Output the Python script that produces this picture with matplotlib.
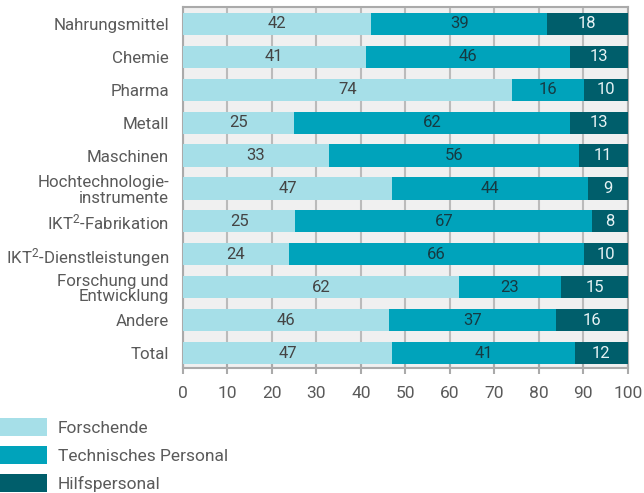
import matplotlib.pyplot as plt
import numpy as np

# categories and shares (percent)
categories = ["Nahrungsmittel", "Chemie", "Pharma", "Metall", "Maschinen",
              "Hochtechnologie-\ninstrumente", "IKT$^2$-Fabrikation",
              "IKT$^2$-Dienstleistungen", "Forschung und\nEntwicklung",
              "Andere", "Total"]
forschende = [42.4, 41.1, 73.9, 25.0, 32.9, 47.1, 25.3, 23.9, 62.0, 46.4, 47.1]
technisch = [39.4, 45.9, 16.3, 62.0, 56.1, 44.0, 66.7, 66.3, 23.0, 37.4, 41.0]
hilfs = [18.2, 13.0, 9.8, 13.0, 11.0, 8.9, 8.0, 9.8, 15.0, 16.2, 11.9]
series_names = ["Forschende", "Technisches Personal", "Hilfspersonal"]
xticks = [0, 10, 20, 30, 40, 50, 60, 70, 80, 90, 100]

colors = ["#a6dfe8", "#00a3bb", "#005e6b"]
text_colors = ["#444444", "#163a42", "#e6f2f4"]

plt.rcParams['font.family'] = ['Roboto', 'DejaVu Sans']
plt.rcParams['mathtext.fontset'] = 'custom'
plt.rcParams['mathtext.rm'] = 'Roboto'
plt.rcParams['mathtext.it'] = 'Roboto:italic'
plt.rcParams['mathtext.default'] = 'regular'

fig = plt.figure(figsize=(6.44, 4.93), dpi=100)
ax = fig.add_axes([0.2839, 0.2529, 0.6909, 0.7323])
ax.set_facecolor("#f0f0f0")

y = np.arange(len(categories))
left = np.zeros(len(categories))
for vals, col, tcol, name in zip([forschende, technisch, hilfs], colors, text_colors, series_names):
    bars = ax.barh(y, vals, left=left, height=0.67, color=col, label=name, zorder=3)
    ax.bar_label(bars, labels=["%d" % round(v) for v in vals], label_type="center",
                 color=tcol, fontsize=12)
    left += np.array(vals)

ax.set_xlim(0, 100)
ax.set_ylim(len(categories) - 0.54, -0.5)
ax.set_xticks(xticks)
ax.set_yticks(y)
ax.set_yticklabels(categories, fontsize=12.2, color="#5a5a5a", linespacing=1.05)
ax.tick_params(axis="y", length=0, pad=10)
ax.tick_params(axis="x", direction="inout", length=9, width=1.5, color="#aaaaaa",
               labelsize=12.5, labelcolor="#5a5a5a", pad=8)
ax.grid(axis="x", color="#bbbbbb", linewidth=1.5, zorder=0)
for s in ax.spines.values():
    s.set_color("#aaaaaa")
    s.set_linewidth(1.5)

fig.legend(loc="upper left", bbox_to_anchor=(0.0, 0.152), frameon=False,
           handlelength=2.7, handleheight=1.18, handletextpad=0.62,
           labelspacing=0.6, borderpad=0, borderaxespad=0, labelcolor="#5a5a5a",
           prop={"size": 12.5})

fig.savefig("out.png", dpi=100)
